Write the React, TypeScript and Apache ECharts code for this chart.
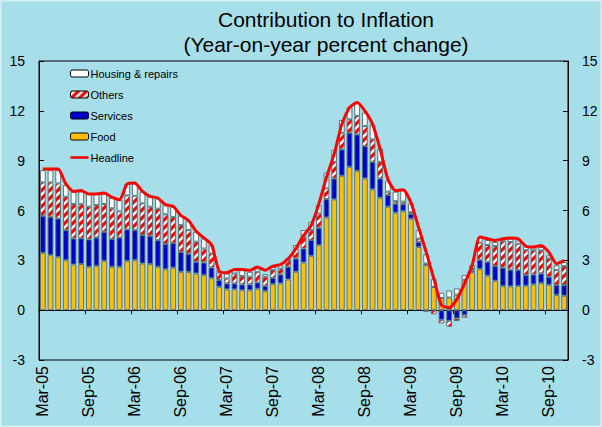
import React, { useEffect, useRef } from "react";
import * as echarts from "echarts";

const months = [
  "Mar-05","Apr-05","May-05","Jun-05","Jul-05","Aug-05","Sep-05","Oct-05","Nov-05","Dec-05",
  "Jan-06","Feb-06","Mar-06","Apr-06","May-06","Jun-06","Jul-06","Aug-06","Sep-06","Oct-06","Nov-06","Dec-06",
  "Jan-07","Feb-07","Mar-07","Apr-07","May-07","Jun-07","Jul-07","Aug-07","Sep-07","Oct-07","Nov-07","Dec-07",
  "Jan-08","Feb-08","Mar-08","Apr-08","May-08","Jun-08","Jul-08","Aug-08","Sep-08","Oct-08","Nov-08","Dec-08",
  "Jan-09","Feb-09","Mar-09","Apr-09","May-09","Jun-09","Jul-09","Aug-09","Sep-09","Oct-09","Nov-09","Dec-09",
  "Jan-10","Feb-10","Mar-10","Apr-10","May-10","Jun-10","Jul-10","Aug-10","Sep-10","Oct-10","Nov-10",
];

const food = [
  3.45, 3.31, 3.21, 3.01, 2.75, 2.78, 2.61, 2.67, 2.97, 2.61,
  2.61, 2.97, 3.01, 2.81, 2.77, 2.61, 2.46, 2.56, 2.31, 2.30, 2.21, 2.11,
  1.93, 1.41, 1.25, 1.25, 1.20, 1.20, 1.29, 1.16, 1.57, 1.61, 1.85, 2.31,
  2.87, 3.27, 3.92, 5.58, 6.67, 8.09, 8.63, 8.39, 7.93, 7.27, 6.77, 6.23,
  5.87, 5.96, 5.50, 3.80, 2.71, 1.40, 0.73, 0.76, 0.94, 1.83, 2.28, 2.49,
  2.08, 1.77, 1.45, 1.43, 1.45, 1.47, 1.55, 1.63, 1.53, 0.92, 0.87,
];

const services = [
  2.23, 2.31, 2.31, 1.81, 1.57, 1.55, 1.65, 1.71, 1.75, 1.67,
  1.77, 1.89, 1.81, 1.71, 1.71, 1.60, 1.53, 1.48, 1.20, 1.10, 0.70, 0.76,
  0.64, 0.40, 0.36, 0.36, 0.35, 0.35, 0.38, 0.31, 0.38, 0.54, 0.76, 0.80,
  0.84, 0.95, 1.04, 1.11, 1.26, 1.59, 2.05, 2.19, 1.95, 1.66, 1.16, 0.70,
  0.54, 0.42, 0.30, 0.31, 0.10, 0.00, -0.58, -0.64, -0.50, -0.30, 0.10, 0.54,
  0.83, 0.89, 1.11, 1.01, 0.96, 0.64, 0.60, 0.58, 0.48, 0.59, 0.64,
];

const others = [
  2.01, 2.07, 2.11, 2.01, 2.07, 2.05, 1.97, 1.95, 1.67, 1.85,
  1.57, 2.05, 2.07, 1.91, 1.75, 1.90, 1.78, 1.56, 1.61, 1.42, 1.21, 0.84,
  0.84, 0.45, 0.30, 0.60, 0.50, 0.46, 0.64, 0.54, 0.46, 0.36, 0.40, 0.60,
  0.71, 0.60, 0.86, 0.64, 1.00, 1.00, 0.81, 1.11, 1.20, 1.35, 1.00, 0.20,
  0.15, 0.15, 0.10, 0.20, -0.10, -0.25, -0.22, -0.36, -0.16, -0.16, 0.10, 1.03,
  1.01, 1.20, 1.62, 1.66, 1.59, 1.50, 1.45, 1.39, 1.10, 0.90, 1.14,
];

const housing = [
  0.74, 0.74, 0.80, 0.70, 0.74, 0.76, 0.76, 0.66, 0.60, 0.62,
  0.68, 0.69, 0.74, 0.70, 0.60, 0.62, 0.55, 0.62, 0.58, 0.54, 0.60, 0.61,
  0.51, 0.14, 0.30, 0.20, 0.36, 0.30, 0.20, 0.16, 0.20, 0.19, 0.12, 0.21,
  0.40, 0.50, 0.51, 0.96, 0.71, 0.77, 0.72, 0.80, 0.81, 0.90, 0.80, 0.67,
  0.57, 0.70, 0.53, 0.51, 0.56, 0.47, 0.32, 0.42, 0.37, 0.28, 0.25, 0.32,
  0.30, 0.24, 0.09, 0.20, 0.20, 0.24, 0.18, 0.20, 0.19, 0.29, 0.25,
];

const headline = [
  8.5, 8.5, 8.5, 7.6, 7.15, 7.2, 7.0, 7.0, 7.05, 6.8,
  6.65, 7.6, 7.65, 7.15, 6.85, 6.75, 6.35, 6.25, 5.7, 5.4, 4.75, 4.35,
  3.95, 2.35, 2.25, 2.45, 2.45, 2.4, 2.6, 2.4, 2.65, 2.75, 3.1, 3.7,
  4.5, 5.1, 6.4, 8.0, 9.4, 11.2, 12.2, 12.5, 12.0, 11.2, 9.7, 7.9,
  7.2, 7.25, 6.5, 5.0, 3.5, 1.9, 0.3, 0.15, 0.65, 1.6, 2.7, 4.4,
  4.3, 4.2, 4.3, 4.35, 4.3, 3.85, 3.8, 3.9, 3.5, 2.8, 3.0,
];

const yTicks = { min: -3, max: 15, interval: 3 };
const FONT = "'Liberation Sans', Arial, sans-serif";

function makeHatch() {
  const c = document.createElement("canvas");
  c.width = 8;
  c.height = 8;
  const ctx = c.getContext("2d")!;
  ctx.fillStyle = "#ffffff";
  ctx.fillRect(0, 0, 8, 8);
  ctx.strokeStyle = "#ff0000";
  ctx.lineWidth = 3.2;
  ctx.beginPath();
  ctx.moveTo(-2, 10); ctx.lineTo(10, -2);
  ctx.moveTo(-2, 2); ctx.lineTo(2, -2);
  ctx.moveTo(6, 10); ctx.lineTo(10, 6);
  ctx.stroke();
  return c;
}

export default function App() {
  const ref = useRef<HTMLDivElement>(null);
  useEffect(() => {
    if (!ref.current) return;
    const chart = echarts.init(ref.current, null, { renderer: "svg" });
    const hatch = makeHatch();
    const barBorder = { borderColor: "#5d7378", borderWidth: 1 };
    const yAxisBase = {
      type: "value",
      min: yTicks.min,
      max: yTicks.max,
      interval: yTicks.interval,
      axisLine: { show: true, lineStyle: { color: "#000", width: 1 } },
      axisTick: { show: true, inside: true, length: 5, lineStyle: { color: "#000" } },
      splitLine: { show: false },
      axisLabel: { color: "#000", fontSize: 14, margin: 14, fontFamily: FONT },
    };
    chart.setOption({
      animation: false,
      backgroundColor: "#a6dfe9",
      textStyle: { fontFamily: FONT },
      title: {
        text: "Contribution to Inflation\n(Year-on-year percent change)",
        left: 326,
        top: 0,
        textAlign: "center",
        padding: [7, 0, 0, 0],
        textStyle: { fontSize: 21, fontWeight: "normal", color: "#000", lineHeight: 25, fontFamily: FONT },
      },
      legend: {
        orient: "vertical",
        left: 70,
        top: 68,
        padding: 0,
        itemWidth: 18,
        itemHeight: 7,
        itemGap: 10,
        itemStyle: { borderColor: "#000", borderWidth: 1 },
        textStyle: { fontSize: 11, color: "#000", fontFamily: FONT, padding: [0, 0, 0, -3] },
        data: [
          { name: "Housing & repairs" },
          { name: "Others" },
          { name: "Services" },
          { name: "Food" },
          {
            name: "Headline",
            icon: "path://M0,0 L0,0 M0,2.2 L18,2.2 L18,4.8 L0,4.8 Z M18,7 L18,7",
            itemStyle: { color: "#ff0000", borderWidth: 0 },
          },
        ],
      },
      grid: {
        left: 39,
        right: 34,
        top: 61,
        bottom: 67,
        show: true,
        borderColor: "#000",
        borderWidth: 1,
        backgroundColor: "transparent",
      },
      xAxis: [
        {
          type: "category",
          data: months,
          boundaryGap: true,
          axisLine: { show: true, onZero: true, lineStyle: { color: "#000", width: 1 } },
          axisTick: { show: true, interval: 5, length: 4, lineStyle: { color: "#000" } },
          axisLabel: { show: false },
          splitLine: { show: false },
        },
        {
          type: "category",
          data: months,
          position: "bottom",
          boundaryGap: true,
          axisLine: { show: false, onZero: false },
          axisTick: { show: false },
          axisLabel: { interval: 5, rotate: 90, fontSize: 16, color: "#000", margin: 6, fontFamily: FONT },
          splitLine: { show: false },
        },
      ],
      yAxis: [
        { ...yAxisBase, position: "left" },
        { ...yAxisBase, position: "right" },
      ],
      series: [
        {
          name: "Food",
          type: "bar",
          stack: "c",
          barWidth: "76%",
          data: food,
          itemStyle: { color: "#ffc000", ...barBorder },
        },
        {
          name: "Services",
          type: "bar",
          stack: "c",
          data: services,
          itemStyle: { color: "#0000cc", ...barBorder },
        },
        {
          name: "Others",
          type: "bar",
          stack: "c",
          data: others,
          itemStyle: { color: { image: hatch, repeat: "repeat", imageWidth: 8, imageHeight: 8 }, ...barBorder },
        },
        {
          name: "Housing & repairs",
          type: "bar",
          stack: "c",
          data: housing,
          itemStyle: { color: "#ffffff", ...barBorder },
        },
        {
          name: "Headline",
          type: "line",
          data: headline,
          symbol: "none",
          smooth: 0.2,
          z: 5,
          lineStyle: { color: "#ff0000", width: 3, join: "round" },
          itemStyle: { color: "#ff0000" },
        },
      ],
      graphic: [
        {
          type: "rect",
          silent: true,
          z: 100,
          shape: { x: 0.75, y: 0.75, width: 600.5, height: 425.5 },
          style: { fill: "none", stroke: "#d5eff4", lineWidth: 1.5 },
        },
      ],
    });
    return () => chart.dispose();
  }, []);
  return (
    <div
      ref={ref}
      style={{ position: "fixed", left: 0, top: 0, width: 602, height: 427 }}
    />
  );
}
